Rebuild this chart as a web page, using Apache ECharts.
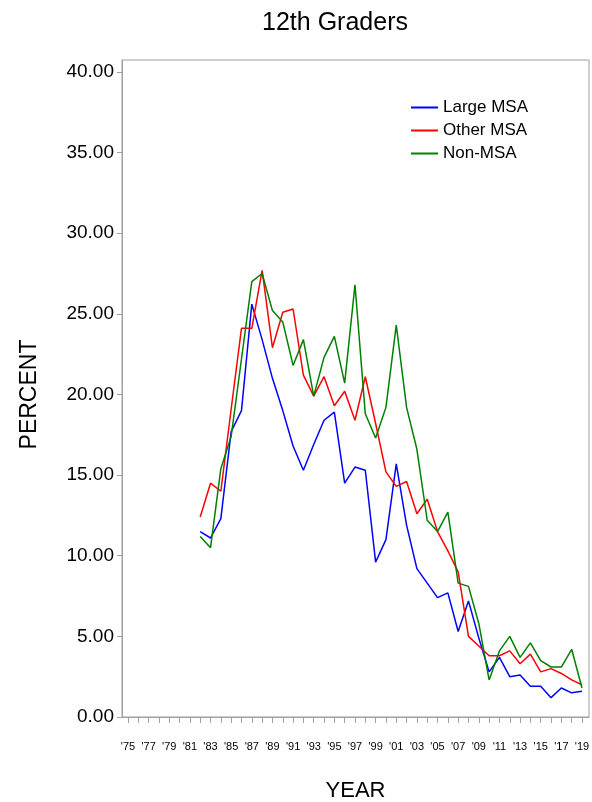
<!DOCTYPE html>
<html>
<head>
<meta charset="utf-8">
<script src="https://cdn.jsdelivr.net/npm/echarts@6/dist/echarts.min.js"></script>
<style>
html,body{margin:0;padding:0;background:#fff;}
#chart{width:592px;height:802px;}
</style>
</head>
<body>
<div id="chart"></div>
<script>
const years = [1982,1983,1984,1985,1986,1987,1988,1989,1990,1991,1992,1993,1994,1995,1996,1997,1998,1999,2000,2001,2002,2003,2004,2005,2006,2007,2008,2009,2010,2011,2012,2013,2014,2015,2016,2017,2018,2019];
const largeMSA = [11.5,11.1,12.3,17.7,19.0,25.6,23.4,21.0,19.0,16.8,15.3,16.9,18.4,18.9,14.5,15.5,15.3,9.6,11.0,15.7,11.9,9.2,8.3,7.4,7.7,5.3,7.2,4.9,2.8,3.7,2.5,2.6,1.9,1.9,1.2,1.8,1.5,1.6];
const otherMSA = [12.4,14.5,14.0,19.1,24.1,24.1,27.7,22.9,25.1,25.3,21.2,19.9,21.1,19.3,20.2,18.4,21.1,18.2,15.2,14.3,14.6,12.6,13.5,11.5,10.3,9.0,5.0,4.4,3.8,3.8,4.1,3.3,3.9,2.8,3.0,2.7,2.3,2.0];
const nonMSA = [11.2,10.5,15.4,17.4,22.2,27.0,27.5,25.2,24.5,21.8,23.4,19.9,22.3,23.6,20.7,26.8,18.8,17.3,19.2,24.3,19.2,16.6,12.2,11.5,12.7,8.3,8.1,5.8,2.3,4.1,5.0,3.7,4.6,3.5,3.1,3.1,4.2,1.8];
const xTickYears = [1975,1976,1977,1978,1979,1980,1981,1982,1983,1984,1985,1986,1987,1988,1989,1990,1991,1992,1993,1994,1995,1996,1997,1998,1999,2000,2001,2002,2003,2004,2005,2006,2007,2008,2009,2010,2011,2012,2013,2014,2015,2016,2017,2018,2019];
const xLabelYears = [1975,1977,1979,1981,1983,1985,1987,1989,1991,1993,1995,1997,1999,2001,2003,2005,2007,2009,2011,2013,2015,2017,2019];
const yTicks = [0,5,10,15,20,25,30,35,40];

const pair = arr => years.map((y,i)=>[y,arr[i]]);
const font = 'Liberation Sans, Arial, Helvetica, sans-serif';

const chart = echarts.init(document.getElementById('chart'), null, {renderer:'canvas'});
chart.setOption({
  animation:false,
  backgroundColor:'#fff',
  title:{text:'12th Graders', left:330, textAlign:'center', top:6,
    textStyle:{fontFamily:font, fontSize:25, fontWeight:'normal', color:'#000'}},
  legend:{
    orient:'vertical', left:406, top:94, itemWidth:27, itemHeight:2, itemGap:6,
    icon:'rect',
    textStyle:{fontFamily:font, fontSize:17, color:'#000'},
    data:['Large MSA','Other MSA','Non-MSA']
  },
  grid:{left:122, right:3, top:60, bottom:85, outerBoundsMode:'none', containLabel:false,
    show:true, borderColor:'#a0a0a0', borderWidth:1},
  xAxis:{
    type:'value', min:1974.42, max:2019.68,
    name:'YEAR', nameLocation:'middle', nameGap:63,
    nameTextStyle:{fontFamily:font, fontSize:22, color:'#000'},
    axisLine:{show:true, lineStyle:{color:'#a0a0a0', width:1}},
    axisTick:{show:true, length:6, customValues:xTickYears, lineStyle:{color:'#a0a0a0'}},
    axisLabel:{customValues:xLabelYears, margin:24, fontFamily:font, fontSize:11, color:'#000',
      formatter:v=>"'"+String(v).slice(2)},
    splitLine:{show:false}
  },
  yAxis:{
    type:'value', min:0, max:40.74,
    name:'PERCENT', nameLocation:'middle', nameGap:81, nameRotate:90,
    nameTextStyle:{fontFamily:font, fontSize:23, color:'#000', padding:[0,12,0,0]},
    axisLine:{show:true, lineStyle:{color:'#a0a0a0', width:1}},
    axisTick:{show:true, length:5, customValues:yTicks, lineStyle:{color:'#a0a0a0'}},
    axisLabel:{customValues:yTicks, margin:8, fontFamily:font, fontSize:19, color:'#000',
      formatter:v=>v.toFixed(2)},
    splitLine:{show:false}
  },
  series:[
    {name:'Large MSA', type:'line', data:pair(largeMSA), showSymbol:false, symbol:'none',
      lineStyle:{color:'#0000ff', width:1.5}, itemStyle:{color:'#0000ff'}},
    {name:'Other MSA', type:'line', data:pair(otherMSA), showSymbol:false, symbol:'none',
      lineStyle:{color:'#ff0000', width:1.5}, itemStyle:{color:'#ff0000'}},
    {name:'Non-MSA', type:'line', data:pair(nonMSA), showSymbol:false, symbol:'none',
      lineStyle:{color:'#008000', width:1.5}, itemStyle:{color:'#008000'}}
  ]
});
</script>
</body>
</html>
